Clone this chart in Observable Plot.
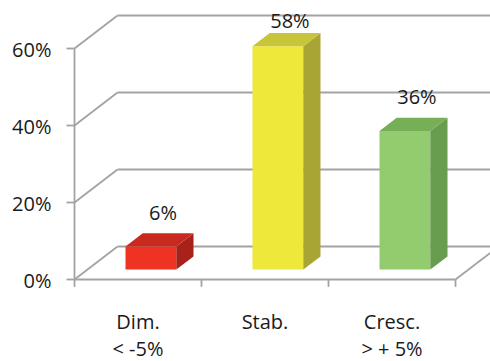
<!DOCTYPE html>
<html>
<head>
<meta charset="utf-8">
<script src="https://cdn.jsdelivr.net/npm/d3@7"></script>
<script src="https://cdn.jsdelivr.net/npm/@observablehq/plot@0.6"></script>
<style>
  html, body { margin: 0; padding: 0; background: #fff; }
</style>
</head>
<body>
<div id="chart"></div>
<script>
// ---- data ----
const categories = ["Dim.\n< -5%", "Stab.", "Cresc.\n> + 5%"];
const values = [0.06, 0.58, 0.36];
const valueLabels = ["6%", "58%", "36%"];
const yTicks = [0, 0.2, 0.4, 0.6];
const yTickLabels = ["0%", "20%", "40%", "60%"];

// ---- palette ----
const frontColors = ["#EE3322", "#EEE83A", "#93CB6F"];
const topColors = ["#C92A20", "#C9C53A", "#76AF58"];
const sideColors = ["#A82219", "#A9A535", "#689C4F"];
const gridColor = "#A3A3A3";
const textColor = "#1a1a1a";
const FS = 20;

// ---- oblique 3D projection (depth z in [0,1]) in data units ----
const KX = 0.3386, KY = 0.0857;
const P = (x, y, z) => ({x: x + z * KX, y: y + z * KY});
const Z0 = 0.3, Z1 = 0.7, BW = 0.4;

// bar faces as closed polygons
const faces = [];
values.forEach((v, i) => {
  const l = i + 0.5 - BW / 2, r = i + 0.5 + BW / 2;
  const add = (id, color, pts) => pts.forEach(p => faces.push({id, color, ...p}));
  add(`front${i}`, frontColors[i], [P(l, 0, Z0), P(r, 0, Z0), P(r, v, Z0), P(l, v, Z0)]);
  add(`side${i}`, sideColors[i], [P(r, 0, Z0), P(r, 0, Z1), P(r, v, Z1), P(r, v, Z0)]);
  add(`top${i}`, topColors[i], [P(l, v, Z0), P(r, v, Z0), P(r, v, Z1), P(l, v, Z1)]);
});

const n = categories.length;
// wall gridlines
const backGrid = yTicks.map(t => ({a: P(0, t, 1), b: P(n, t, 1)}));
const sideGrid = yTicks.map(t => ({a: P(0, t, 0), b: P(0, t, 1)}));
const floor = [
  {a: P(0, 0, 0), b: P(n, 0, 0)},
  {a: P(n, 0, 0), b: P(n, 0, 1)},
  {a: P(0, 0, 0), b: P(0, yTicks[yTicks.length - 1], 0)}
];
const lnk = {x1: d => d.a.x, y1: d => d.a.y, x2: d => d.b.x, y2: d => d.b.y,
             stroke: gridColor, strokeWidth: 1.8};

const xTicks = d3.range(n + 1);
const labelData = values.map((v, i) => ({i, v, label: valueLabels[i]}));

const chart = Plot.plot({
  width: 490,
  height: 361,
  marginLeft: 74,
  marginRight: 35,
  marginTop: 48,
  marginBottom: 82,
  style: {fontFamily: "'Open Sans', sans-serif", fontSize: FS + "px", color: textColor, background: "#fff"},
  x: {domain: [0, n], axis: null},
  y: {domain: [0, 0.6], axis: null},
  color: {type: "identity"},
  marks: [
    Plot.link(backGrid, lnk),
    Plot.link(sideGrid, lnk),
    Plot.link(floor, lnk),
    // y axis ticks
    Plot.link(yTicks, {x1: -0.063, x2: 0, y1: d => d, y2: d => d, stroke: gridColor, strokeWidth: 1.8}),
    // x axis ticks
    Plot.link(xTicks, {x1: d => d, x2: d => d, y1: 0, y2: -0.019, stroke: gridColor, strokeWidth: 1.8}),
    // bars
    Plot.line(faces, {x: "x", y: "y", z: "id", fill: "color", stroke: null, curve: "linear-closed"}),
    // y tick labels
    Plot.text(yTicks, {x: 0, y: d => d, text: (d, i) => yTickLabels[i], textAnchor: "end", dx: -23, dy: 2, fill: textColor, fontSize: FS}),
    // category labels (two lines)
    Plot.text(categories, {x: (d, i) => i + 0.5, y: 0, text: d => d.split("\n")[0], dy: 43, fill: textColor, fontSize: FS}),
    Plot.text(categories, {x: (d, i) => i + 0.5, y: 0, text: d => d.split("\n")[1] || "", dy: 70, fill: textColor, fontSize: FS}),
    // value labels
    Plot.text(labelData, {
      x: d => d.i + 0.5 + 0.58 * KX,
      y: d => Math.min(d.v + Z1 * KY + 0.052, 0.67),
      text: "label", fill: textColor, fontSize: FS
    })
  ]
});
document.getElementById("chart").appendChild(chart);
</script>
</body>
</html>
